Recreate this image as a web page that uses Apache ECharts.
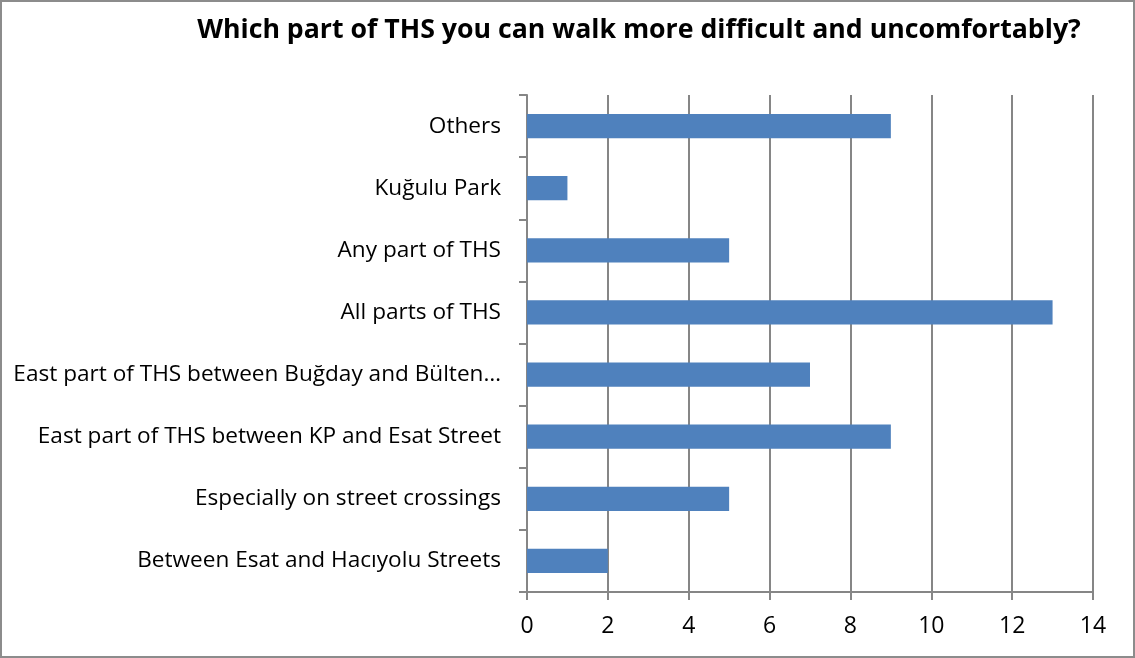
<!DOCTYPE html>
<html>
<head>
<meta charset="utf-8">
<script src="https://cdn.jsdelivr.net/npm/echarts@6/dist/echarts.min.js"></script>
<style>
  html, body { margin: 0; padding: 0; background: #fff; }
  #chart { width: 1135px; height: 658px; box-sizing: border-box; border: 2px solid #8c8c8c; }
</style>
</head>
<body>
<div id="chart"></div>
<script>
// Survey answers, listed bottom to top as they appear on the axis
const categories = [
  'Between Esat and Hacıyolu Streets',
  'Especially on street crossings',
  'East part of THS between KP and Esat Street',
  'East part of THS between Buğday and Bülten…',
  'All parts of THS',
  'Any part of THS',
  'Kuğulu Park',
  'Others'
];
const counts = [2, 5, 9, 7, 13, 5, 1, 9];
const titleText = 'Which part of THS you can walk more difficult and uncomfortably?';

const FONT = '"Open Sans", "Noto Sans", sans-serif';
const AXIS_GREY = '#868686';

const chart = echarts.init(document.getElementById('chart'), null, { renderer: 'canvas' });
chart.setOption({
  animation: false,
  backgroundColor: '#fff',
  title: {
    text: titleText,
    left: 632,
    textAlign: 'center',
    top: 10,
    textStyle: { fontFamily: FONT, fontSize: 26.7, fontWeight: 'bold', color: '#000' }
  },
  grid: { left: 525, right: 40, top: 93, bottom: 64, containLabel: false },
  xAxis: {
    type: 'value',
    min: 0,
    max: 14,
    interval: 2,
    axisLine: { show: true, lineStyle: { color: AXIS_GREY, width: 2 } },
    axisTick: { show: true, length: 8, lineStyle: { color: AXIS_GREY, width: 2 } },
    axisLabel: { fontFamily: FONT, fontSize: 23, color: '#000', margin: 23 },
    splitLine: { show: true, lineStyle: { color: AXIS_GREY, width: 2 } }
  },
  yAxis: {
    type: 'category',
    data: categories,
    axisLine: { show: true, lineStyle: { color: AXIS_GREY, width: 2 } },
    axisTick: { show: true, length: 8, alignWithLabel: false, lineStyle: { color: AXIS_GREY, width: 2 } },
    axisLabel: { fontFamily: FONT, fontSize: 22.6, color: '#000', margin: 26 },
    splitLine: { show: false }
  },
  series: [{
    type: 'bar',
    data: counts,
    barWidth: '39%',
    itemStyle: { color: '#4f81bd' }
  }]
});
</script>
</body>
</html>
